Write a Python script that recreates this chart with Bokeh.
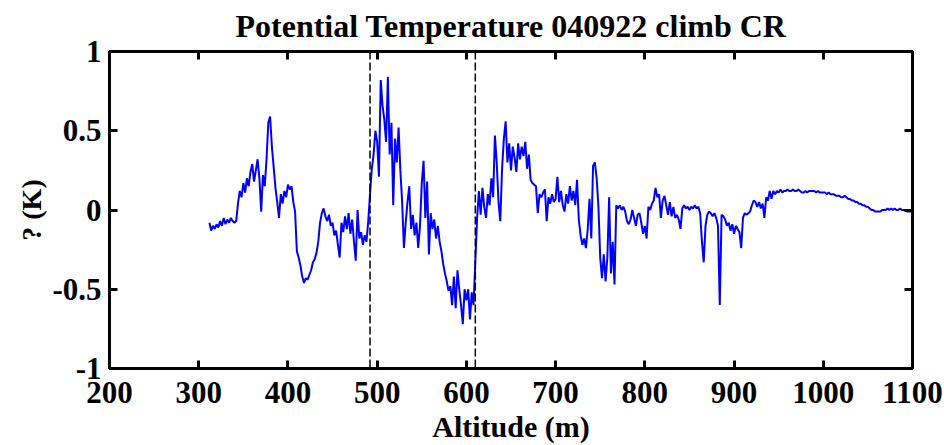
import numpy as np
from bokeh.plotting import figure
from bokeh.models import Range1d, LinearAxis, FixedTicker, CustomJSTickFormatter, Span
from bokeh.embed import file_html
from bokeh.resources import INLINE

# Potential temperature anomaly (K) sampled every 2 m of altitude, one list per 100 m band
seg_start = [312, 400, 500, 600, 700, 800, 900, 1000]
dtheta_300 = [-0.08, -0.13, -0.10, -0.12, -0.09, -0.11, -0.07, -0.10, -0.05, -0.09,
              -0.06, -0.08, -0.05, -0.07, -0.08, -0.07, 0.04, 0.12, 0.08, 0.17,
              0.11, 0.20, 0.15, 0.24, 0.29, 0.18, 0.25, 0.32, 0.20, -0.01,
              0.22, 0.15, 0.32, 0.55, 0.59, 0.40, 0.27, 0.14, 0.05, -0.05,
              0.10, 0.04, 0.12, 0.08]
dtheta_400 = [0.16, 0.13, 0.15, 0.05, -0.01, -0.26, -0.30, -0.35, -0.42, -0.46,
              -0.43, -0.44, -0.41, -0.38, -0.33, -0.31, -0.27, -0.20, -0.08, -0.02,
              0.01, -0.04, -0.07, -0.03, -0.10, -0.08, -0.16, -0.13, -0.22, -0.30,
              -0.08, -0.14, -0.04, -0.12, -0.02, -0.15, -0.06, -0.20, -0.32, 0.00,
              -0.18, -0.14, -0.22, -0.16, -0.20, -0.07, 0.10, 0.26, 0.35, 0.50]
dtheta_500 = [0.43, 0.21, 0.82, 0.66, 0.57, 0.43, 0.84, 0.35, 0.55, 0.03,
              0.45, 0.30, 0.52, 0.25, 0.05, -0.24, -0.08, 0.05, 0.15, -0.12,
              -0.03, -0.16, -0.08, -0.24, -0.10, 0.17, 0.31, -0.05, 0.18, -0.28,
              -0.02, -0.12, -0.06, -0.18, -0.10, -0.20, -0.26, -0.34, -0.40, -0.45,
              -0.51, -0.48, -0.60, -0.42, -0.62, -0.38, -0.50, -0.60, -0.72, -0.50]
dtheta_600 = [-0.57, -0.50, -0.69, -0.52, -0.60, -0.33, -0.05, 0.12, -0.03, 0.14,
              0.02, -0.05, 0.10, 0.03, 0.20, 0.08, 0.47, 0.30, 0.05, -0.07,
              0.26, 0.45, 0.56, 0.30, 0.42, 0.25, 0.40, 0.33, 0.24, 0.42,
              0.32, 0.40, 0.34, 0.43, 0.26, 0.35, 0.19, 0.17, 0.16, 0.15,
              -0.02, 0.10, 0.08, 0.11, 0.13, -0.07, 0.08, 0.04, 0.10, 0.05]
dtheta_700 = [0.07, 0.21, 0.05, 0.12, 0.03, -0.01, 0.10, 0.04, 0.15, 0.06,
              0.12, 0.03, 0.19, -0.06, -0.16, -0.22, -0.18, -0.24, -0.12, 0.07,
              -0.18, 0.28, 0.30, 0.20, 0.02, -0.30, -0.43, -0.28, -0.45, -0.30,
              0.08, -0.40, -0.20, -0.47, 0.03, 0.01, 0.03, 0.00, 0.02, -0.01,
              -0.07, -0.09, -0.06, 0.00, -0.05, -0.10, -0.03, -0.02, -0.08, -0.15]
dtheta_800 = [-0.10, -0.18, 0.02, 0.00, 0.04, 0.06, 0.14, 0.08, 0.10, -0.05,
              0.06, 0.09, 0.03, -0.03, 0.05, -0.04, 0.02, -0.05, -0.03, -0.06,
              -0.12, 0.01, 0.03, 0.01, 0.02, 0.00, 0.02, 0.01, 0.03, 0.01,
              0.02, -0.02, -0.20, -0.33, -0.10, -0.03, -0.01, -0.02, -0.04, -0.02,
              -0.05, -0.10, -0.60, -0.03, -0.04, -0.06, -0.10, -0.08, -0.13, -0.09]
dtheta_900 = [-0.15, -0.10, -0.12, -0.14, -0.24, -0.05, -0.02, -0.03, -0.02, -0.01,
              0.03, 0.06, 0.05, 0.02, 0.05, 0.01, 0.04, -0.05, 0.08, 0.06,
              0.12, 0.07, 0.12, 0.10, 0.12, 0.11, 0.13, 0.11, 0.12, 0.12,
              0.13, 0.12, 0.12, 0.13, 0.12, 0.12, 0.13, 0.12, 0.11, 0.11,
              0.12, 0.11, 0.12, 0.12, 0.12, 0.12, 0.11, 0.12, 0.11, 0.11]
dtheta_1000 = [0.11, 0.11, 0.10, 0.11, 0.10, 0.10, 0.10, 0.09, 0.09, 0.09,
               0.08, 0.08, 0.09, 0.08, 0.07, 0.07, 0.06, 0.06, 0.05, 0.05,
               0.04, 0.04, 0.03, 0.03, 0.02, 0.02, 0.01, 0.00, 0.00, -0.01,
               -0.01, -0.01, -0.01, 0.00, 0.00, 0.00, 0.01, 0.00, 0.01, 0.00,
               0.01, 0.00, 0.00, 0.01, 0.00, 0.00, 0.00, -0.01, -0.01, -0.01,
               -0.01]
sample_step = 2

# Altitudes bounding the analysed layer (dashed markers)
layer_bottom = 492
layer_top = 610

x_ticks = [200, 300, 400, 500, 600, 700, 800, 900, 1000, 1100]
y_ticks = [-1, -0.5, 0, 0.5, 1]

segments = [dtheta_300, dtheta_400, dtheta_500, dtheta_600,
            dtheta_700, dtheta_800, dtheta_900, dtheta_1000]
altitude = np.concatenate([start + sample_step * np.arange(len(seg))
                           for start, seg in zip(seg_start, segments)])
dtheta = np.concatenate([np.array(seg, dtype=float) for seg in segments])

SERIF = "Liberation Serif"

p = figure(width=944, height=445, output_backend="svg", toolbar_location=None,
           x_range=Range1d(200, 1100), y_range=Range1d(-1, 1),
           min_border_left=109, min_border_right=32,
           min_border_top=51, min_border_bottom=76,
           background_fill_color="white", border_fill_color="white")
p.grid.visible = False
p.outline_line_color = "black"
p.outline_line_width = 3

p.title.text = "Potential Temperature 040922 climb CR"
p.title.text_font = SERIF
p.title.text_font_style = "bold"
p.title.text_font_size = "32px"
p.title.text_color = "black"
p.title.text_line_height = 0.8
p.title.align = "center"
p.title.vertical_align = "top"
p.title.standoff = 12

p.line(altitude, dtheta, line_color="#0000ff", line_width=2)

for loc in (layer_bottom, layer_top):
    p.add_layout(Span(location=loc, dimension="height", line_color="black",
                      line_width=1.5, line_dash="8 3"))

fmt = CustomJSTickFormatter(code="return tick.toString();")
blank = CustomJSTickFormatter(code="return '';")


def style_axis(ax, ticks, show_labels):
    ax.ticker = FixedTicker(ticks=ticks)
    ax.formatter = fmt if show_labels else blank
    ax.axis_line_color = None
    ax.major_tick_in = 8
    ax.major_tick_out = 0
    ax.major_tick_line_width = 3
    ax.major_tick_line_color = "black"
    ax.minor_tick_line_color = None
    ax.major_label_text_font = SERIF
    ax.major_label_text_font_style = "bold"
    ax.major_label_text_font_size = "31px" if show_labels else "1px"
    ax.major_label_text_color = "black"
    if not show_labels:
        ax.major_label_standoff = 0


xax = p.xaxis[0]
yax = p.yaxis[0]
style_axis(xax, x_ticks, True)
style_axis(yax, y_ticks, True)
xax.major_label_standoff = 13
yax.major_label_standoff = 8

xax.axis_label = "Altitude (m)"
yax.axis_label = "? (K)"
for ax in (xax, yax):
    ax.axis_label_text_font = SERIF
    ax.axis_label_text_font_style = "bold"
    ax.axis_label_text_color = "black"
xax.axis_label_text_font_size = "30px"
xax.axis_label_text_line_height = 0.8
xax.axis_label_standoff = 4
yax.axis_label_text_font_size = "28px"
yax.axis_label_standoff = 2

top_ax = LinearAxis()
right_ax = LinearAxis()
style_axis(top_ax, x_ticks, False)
style_axis(right_ax, y_ticks, False)
p.add_layout(top_ax, "above")
p.add_layout(right_ax, "right")

open("out.html", "w").write(file_html(p, INLINE))
